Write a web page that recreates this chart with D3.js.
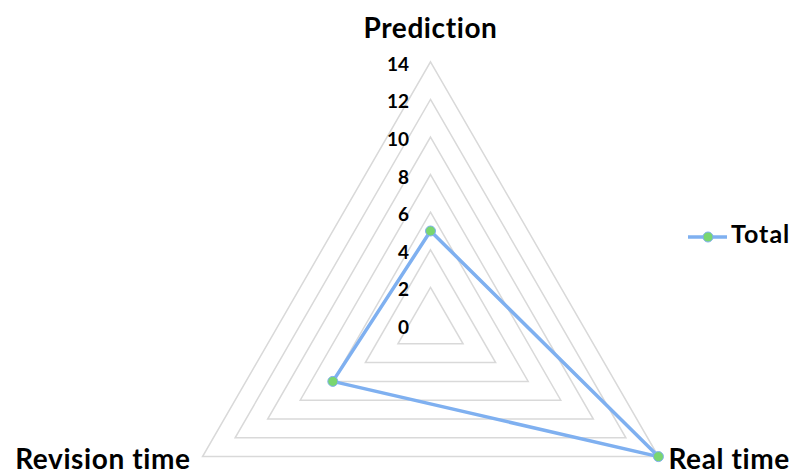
<!DOCTYPE html>
<html>
<head>
<meta charset="utf-8">
<script src="https://cdn.jsdelivr.net/npm/d3@7"></script>
<style>
  html, body { margin: 0; padding: 0; background: #fff; }
  svg { display: block; }
  text { font-family: Lato, "Open Sans", sans-serif; font-weight: bold; fill: #000; }
</style>
</head>
<body>
<svg id="chart" width="798" height="473"></svg>
<script>
// Radar chart: one series across three axes
const categories = ["Prediction", "Real time", "Revision time"];
const seriesName = "Total";
const totalValues = [5, 14, 6];
const tickValues = [0, 2, 4, 6, 8, 10, 12, 14];

const cx = 430.5, cy = 325, radius = 263.2;

const svg = d3.select("#chart");

const r = d3.scaleLinear().domain([0, 14]).range([0, radius]);
const angle = d3.scalePoint().domain(categories).range([0, 2 * Math.PI * 2 / 3]);

function pt(cat, v) {
  const a = angle(cat);
  return [cx + r(v) * Math.sin(a), cy - r(v) * Math.cos(a)];
}

const radial = d3.lineRadial()
  .angle(d => angle(d.cat))
  .radius(d => r(d.v))
  .curve(d3.curveLinearClosed);

const g = svg.append("g").attr("transform", `translate(${cx},${cy})`);

// concentric grid triangles
g.selectAll("path.grid")
  .data(tickValues.filter(t => t > 0))
  .join("path")
  .attr("class", "grid")
  .attr("d", t => radial(categories.map(c => ({ cat: c, v: t }))))
  .attr("fill", "none")
  .attr("stroke", "#d9d9d9")
  .attr("stroke-width", 1.5);

// value labels along the top axis
svg.selectAll("text.tick")
  .data(tickValues)
  .join("text")
  .attr("class", "tick")
  .attr("x", cx - 21.5)
  .attr("y", t => cy - r(t) + 1.5)
  .attr("text-anchor", "end")
  .attr("dominant-baseline", "central")
  .style("font-size", "19px")
  .text(t => t);

// series outline
g.append("path")
  .attr("d", radial(categories.map((c, i) => ({ cat: c, v: totalValues[i] }))))
  .attr("fill", "none")
  .attr("stroke", "#7fb0f0")
  .attr("stroke-width", 3.5)
  .attr("stroke-linejoin", "round");

// series markers
svg.selectAll("circle.pt")
  .data(categories.map((c, i) => pt(c, totalValues[i])))
  .join("circle")
  .attr("class", "pt")
  .attr("cx", d => d[0])
  .attr("cy", d => d[1])
  .attr("r", 5)
  .attr("fill", "#79d66f")
  .attr("stroke", "#7fb0f0")
  .attr("stroke-width", 1);

// axis labels
const labelFont = "28px";
const labelSpacing = "0.6px";
const topVertex = pt(categories[0], 14);
svg.append("text")
  .attr("x", topVertex[0]).attr("y", 37.5)
  .attr("text-anchor", "middle")
  .style("font-size", labelFont)
  .style("letter-spacing", labelSpacing)
  .text(categories[0]);

const rightVertex = pt(categories[1], 14);
svg.append("text")
  .attr("x", rightVertex[0] + 10).attr("y", 469)
  .attr("text-anchor", "start")
  .style("font-size", labelFont)
  .style("letter-spacing", labelSpacing)
  .text(categories[1]);

const leftVertex = pt(categories[2], 14);
svg.append("text")
  .attr("x", leftVertex[0] - 12).attr("y", 469)
  .attr("text-anchor", "end")
  .style("font-size", labelFont)
  .style("letter-spacing", labelSpacing)
  .text(categories[2]);

// legend
const legend = svg.append("g").attr("transform", "translate(688,237)");
legend.append("line")
  .attr("x1", 0).attr("x2", 39).attr("y1", 0).attr("y2", 0)
  .attr("stroke", "#7fb0f0").attr("stroke-width", 3.5);
legend.append("circle")
  .attr("cx", 20).attr("cy", 0).attr("r", 5)
  .attr("fill", "#79d66f").attr("stroke", "#7fb0f0").attr("stroke-width", 1);
legend.append("text")
  .attr("x", 43).attr("y", 6)
  .style("font-size", "25px")
  .style("letter-spacing", "1px")
  .text(seriesName);
</script>
</body>
</html>
